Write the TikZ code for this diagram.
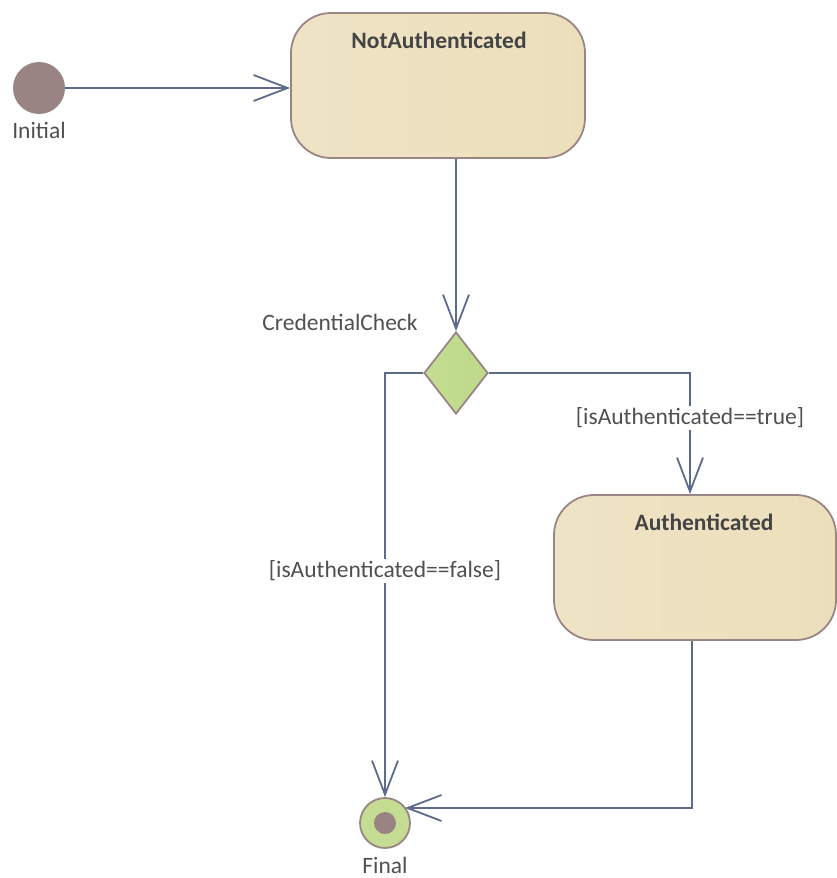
\documentclass[tikz,border=0pt]{standalone}
\usepackage{fontspec}
\setmainfont{Carlito}
\usetikzlibrary{arrows.meta,shapes.geometric,calc}
\definecolor{edgeblue}{HTML}{5E6A8A}
\definecolor{stateborder}{HTML}{9A8585}
\definecolor{beigeL}{HTML}{EFE3C6}
\definecolor{beigeM}{HTML}{F5EDDF}
\definecolor{beigeR}{HTML}{EBDFBB}
\definecolor{greenL}{HTML}{C4DD92}
\definecolor{greenM}{HTML}{D2E5AB}
\definecolor{greenR}{HTML}{BED98A}
\definecolor{dotfill}{HTML}{9A8383}
\definecolor{textgray}{HTML}{505050}
\begin{document}
\begin{tikzpicture}[x=1pt,y=-1pt,
  every node/.style={font=\fontsize{23.5}{28}\selectfont, text=textgray},
  flow/.style={draw=edgeblue, line width=1.8pt, -{Straight Barb[length=34pt,width=26pt,line width=1.8pt]}},
  statebox/.style={draw=stateborder, line width=1.8pt, rounded corners=40pt,
    left color=beigeL, middle color=beigeM, right color=beigeR,
    minimum width=294pt, minimum height=145pt, inner sep=0pt},
  title/.style={font=\fontsize{23.5}{28}\selectfont\bfseries, text=textgray!85!black},
  guard/.style={fill=white, inner sep=2pt}
]
\useasboundingbox (0,0) rectangle (837,878);

% initial pseudo-state
\node[circle, fill=dotfill, minimum size=52pt, inner sep=0pt] (init) at (39,88) {};
\node (initlbl) at (39,130) {Initial};

% states
\node[statebox] (notauth) at (438,85.5) {};
\node[title] (notauthttl) at (439,40) {NotAuthenticated};

\node[statebox, minimum width=282pt] (auth) at (695,567.5) {};
\node[title] (authttl) at (704,522) {Authenticated};

% decision
\node[diamond, draw=stateborder, line width=1.8pt, aspect=0.78,
  left color=greenL, middle color=greenM, right color=greenR,
  minimum width=64pt, minimum height=82pt, inner sep=0pt] (check) at (456,373) {};
\node (checklbl) at (340,322) {CredentialCheck};

% final state
\node[circle, draw=stateborder, line width=1.8pt, fill=greenL, minimum size=50pt, inner sep=0pt] (final) at (385,823) {};
\node[circle, fill=dotfill, minimum size=22pt, inner sep=0pt] (finaldot) at (final.center) {};
\node (finallbl) at (385,865) {Final};

% transitions
\draw[flow] (init.east) -- (init.east -| notauth.west);
\draw[flow] (notauth.south -| check.north) -- (check.north);
\draw[flow] (check.west) -| (final.north);
\draw[flow] (check.east) -| (auth.north -| 690,0) coordinate (authin);
\coordinate (finalin) at ($(final.center)+(20,-15)$);
\draw[flow] (auth.south -| 692,0) |- (finalin);

% guards
\node[guard] (gfalse) at (385,571) {[isAuthenticated==false]};
\node[guard] (gtrue) at (690,418) {[isAuthenticated==true]};
\end{tikzpicture}
\end{document}
